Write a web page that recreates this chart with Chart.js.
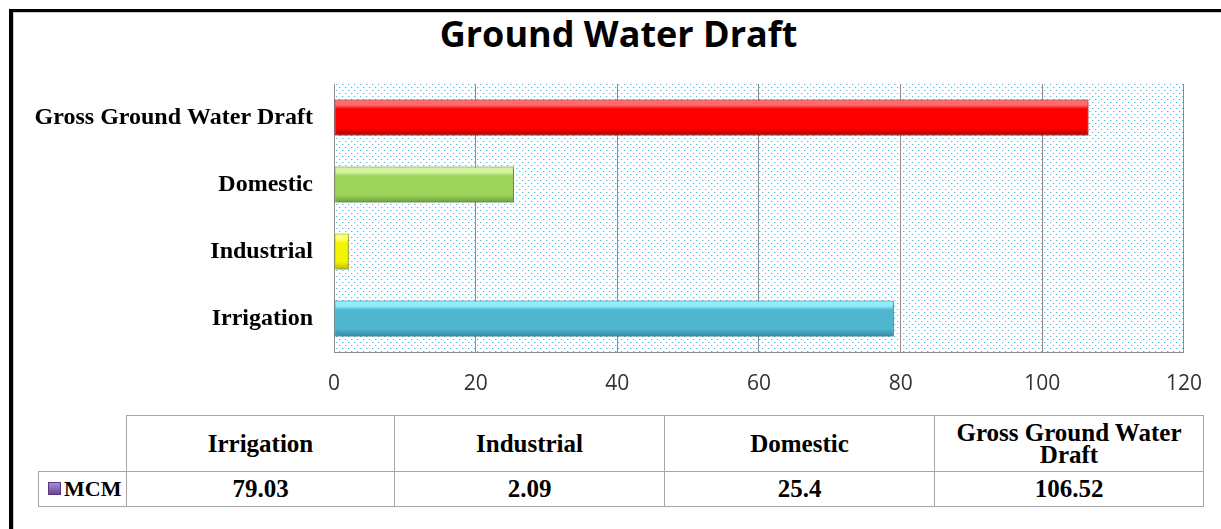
<!DOCTYPE html>
<html>
<head>
<meta charset="utf-8">
<title>Ground Water Draft</title>
<script src="https://cdn.jsdelivr.net/npm/chart.js@4.4.0/dist/chart.umd.min.js"></script>
<style>
  body { margin: 0; background: #fff; width: 1221px; height: 529px; overflow: hidden; position: relative; }
  #frame { position: absolute; left: 9px; top: 9px; width: 1300px; height: 600px;
           border-top: 3px solid #000; border-left: 4px solid #000; box-shadow: inset 1px 1px 0 #c8c8c8; }
  #title { position: absolute; left: 0; top: 12px; width: 1237px; text-align: center;
           font: bold 36px/43px "Open Sans", sans-serif; color: #000; }
  #chart { position: absolute; left: 0; top: 0; }
  #dataTable { position: absolute; left: 38px; top: 415px; width: 1165px; border-collapse: collapse;
               table-layout: fixed; font: bold 25px "Liberation Serif", serif; color: #000; }
  #dataTable td { border: 1px solid #a6a6a6; text-align: center; padding: 0 4px; line-height: 22px; }
  #dataTable tr.head td { height: 55px; }
  #dataTable tr.vals td { height: 34px; }
  #dataTable td.blank { border-top: none; border-left: none; }
  #dataTable td.key { text-align: left; padding-left: 9px; font-size: 22px; white-space: nowrap; }
  .swatch { display: inline-block; width: 11px; height: 11px; margin-right: 3px; vertical-align: 1px;
            background: linear-gradient(#a98bd0, #6a4896); border: 1px solid #58397e; }
</style>
</head>
<body>
<div id="frame"></div>
<div id="title"></div>
<canvas id="chart" width="1221" height="400"></canvas>
<table id="dataTable">
  <colgroup>
    <col style="width:88px"><col style="width:268px"><col style="width:270px"><col style="width:270px"><col style="width:269px">
  </colgroup>
  <tr class="head" id="headRow"><td class="blank"></td></tr>
  <tr class="vals" id="valRow"></tr>
</table>
<script>
// DATA
const chartTitle = 'Ground Water Draft';
const seriesName = 'MCM';
const categories = ['Irrigation', 'Industrial', 'Domestic', 'Gross Ground Water Draft'];
const draftMCM = [79.03, 2.09, 25.4, 106.52];
const xTicks = [0, 20, 40, 60, 80, 100, 120];

// bar colours: [top highlight, main, bottom edge]
const barShades = [
    ['#92ecfa', '#4fb7d1', '#2f8aa2'],
    ['#ffff70', '#f4f400', '#b8b800'],
    ['#d3f3a0', '#9ed65b', '#6d9e3a'],
    ['#ff6a6a', '#ff0000', '#b80000']
];
const BAR_PCT = 0.54;

// ---------- TITLE + DATA TABLE ----------
document.getElementById('title').textContent = chartTitle;
const headRow = document.getElementById('headRow');
const valRow = document.getElementById('valRow');
valRow.innerHTML = '<td class="key"><span class="swatch"></span>' + seriesName + '</td>';
categories.forEach(function (name, i) {
    const th = document.createElement('td');
    th.textContent = name;
    headRow.appendChild(th);
    const td = document.createElement('td');
    td.textContent = String(draftMCM[i]);
    valRow.appendChild(td);
});

// ---------- PLUGINS ----------
let dotPattern = null;
const plotBackground = {
    id: 'plotBackground',
    beforeDraw(chart) {
        const a = chart.chartArea;
        const ctx = chart.ctx;
        if (!dotPattern) {
            const tile = document.createElement('canvas');
            tile.width = 6; tile.height = 6;
            const t = tile.getContext('2d');
            t.fillStyle = '#ffffff';
            t.fillRect(0, 0, 6, 6);
            t.fillStyle = '#cfe9f5';
            t.fillRect(1, 0, 1, 1);
            t.fillRect(4, 3, 1, 1);
            t.fillStyle = '#5cb4dc';
            t.fillRect(0, 0, 1, 1);
            t.fillRect(3, 3, 1, 1);
            dotPattern = ctx.createPattern(tile, 'repeat');
        }
        ctx.save();
        ctx.fillStyle = dotPattern;
        ctx.fillRect(a.left, a.top, a.right - a.left, a.bottom - a.top);
        ctx.restore();
    }
};
const barShadow = {
    id: 'barShadow',
    beforeDatasetsDraw(chart) {
        const ctx = chart.ctx;
        ctx.save();
        ctx.shadowColor = 'rgba(0,0,0,0.35)';
        ctx.shadowBlur = 4;
        ctx.shadowOffsetX = 1;
        ctx.shadowOffsetY = 2;
    },
    afterDatasetsDraw(chart) {
        chart.ctx.restore();
    }
};

function barFill(c) {
    const shades = barShades[c.dataIndex % barShades.length];
    const y = c.chart.scales && c.chart.scales.y;
    if (!y || c.type !== 'data') return shades[1];
    const mid = y.getPixelForValue(c.dataIndex);
    const half = (y.height / categories.length) * BAR_PCT / 2;
    if (!isFinite(mid) || !isFinite(half) || half <= 0) return shades[1];
    const g = c.chart.ctx.createLinearGradient(0, mid - half, 0, mid + half);
    g.addColorStop(0, shades[0]);
    g.addColorStop(0.16, shades[0]);
    g.addColorStop(0.26, shades[1]);
    g.addColorStop(0.78, shades[1]);
    g.addColorStop(1, shades[2]);
    return g;
}

// ---------- CHART ----------
new Chart(document.getElementById('chart'), {
    type: 'bar',
    data: {
        labels: categories,
        datasets: [{
            label: seriesName,
            data: draftMCM,
            backgroundColor: barFill,
            borderColor: function (c) { return barShades[c.dataIndex % barShades.length][2]; },
            borderWidth: 1,
            borderSkipped: false,
            categoryPercentage: 1,
            barPercentage: BAR_PCT
        }]
    },
    options: {
        indexAxis: 'y',
        responsive: false,
        animation: false,
        layout: { padding: { left: 0, right: 37, top: 84, bottom: 0 } },
        plugins: {
            legend: { display: false },
            tooltip: { enabled: false },
            title: { display: false }
        },
        scales: {
            x: {
                min: xTicks[0],
                max: xTicks[xTicks.length - 1],
                ticks: {
                    stepSize: xTicks[1] - xTicks[0],
                    color: '#333',
                    padding: 19,
                    font: { family: '"Open Sans", sans-serif', size: 21 }
                },
                grid: { color: '#8c8c8c', drawTicks: false },
                border: { color: '#8c8c8c' },
                afterFit: function (s) { s.height = 48; }
            },
            y: {
                reverse: true,
                ticks: {
                    color: '#000',
                    padding: 21,
                    font: { family: '"Liberation Serif", serif', size: 24, weight: 'bold' }
                },
                grid: { display: false, drawTicks: false },
                border: { color: '#8c8c8c' },
                afterFit: function (s) { s.width = 334; }
            }
        }
    },
    plugins: [plotBackground, barShadow]
});
</script>
</body>
</html>
